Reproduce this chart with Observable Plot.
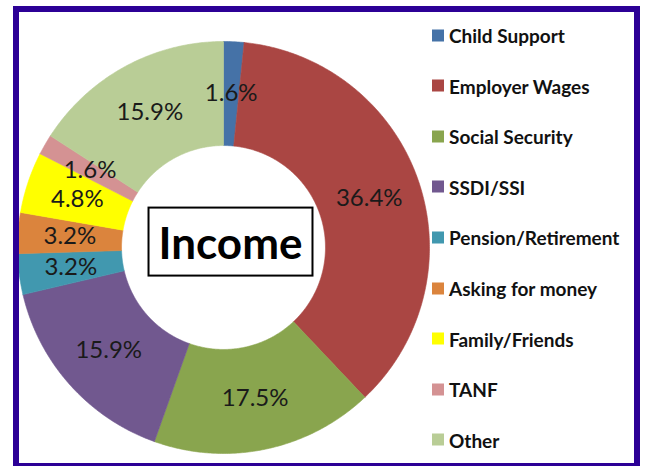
<!DOCTYPE html>
<html><head><meta charset="utf-8">
<script src="https://cdn.jsdelivr.net/npm/d3@7"></script>
<script src="https://cdn.jsdelivr.net/npm/@observablehq/plot@0.6"></script>
<style>
html,body{margin:0;padding:0;background:#fff;width:646px;height:466px;overflow:hidden;}
#frame{position:absolute;left:13px;top:6px;width:627px;height:463px;border:6px solid #2C0096;box-sizing:border-box;z-index:2;pointer-events:none;}
#chart{position:absolute;left:13px;top:37px;}
#legend{position:absolute;left:432px;top:0;font-family:Lato,sans-serif;font-weight:700;font-size:19px;color:#111;}
.item{position:absolute;left:0;display:flex;align-items:center;white-space:nowrap;transform:translateY(-50%);}
.sw{width:12px;height:12px;margin-right:5px;flex:none;}
</style></head><body>
<div id="chart"></div><div id="legend"></div><div id="frame"></div>
<script>
const categories = ["Child Support","Employer Wages","Social Security","SSDI/SSI","Pension/Retirement","Asking for money","Family/Friends","TANF","Other"];
const percents = [1.6, 36.4, 17.5, 15.9, 3.2, 3.2, 4.8, 1.6, 15.9];
const colors = ["#4572A7","#AA4643","#89A54E","#71588F","#4198AF","#DB843D","#FFFF00","#D49293","#B9CD96"];
const chartTitle = "Income";

const innerRatio = 0.495;
const data = categories.map((name, i) => ({name, pct: percents[i]}));
const arcs = d3.pie().sort(null).value(d => d.pct)(data);

const pts = [];
const labels = [];
for (const a of arcs) {
  const n = Math.max(2, Math.ceil((a.endAngle - a.startAngle) / (Math.PI / 360)));
  const ring = [];
  for (let k = 0; k <= n; k++) {
    const t = a.startAngle + (a.endAngle - a.startAngle) * k / n;
    ring.push({name: a.data.name, x: Math.sin(t), y: Math.cos(t)});
  }
  for (let k = n; k >= 0; k--) {
    const t = a.startAngle + (a.endAngle - a.startAngle) * k / n;
    ring.push({name: a.data.name, x: innerRatio * Math.sin(t), y: innerRatio * Math.cos(t)});
  }
  ring.push(ring[0]);
  pts.push(...ring);
  const m = (a.startAngle + a.endAngle) / 2, r = (1 + innerRatio) / 2;
  labels.push({x: r * Math.sin(m), y: r * Math.cos(m), text: a.data.pct.toFixed(1) + "%"});
}

const plot = Plot.plot({
  width: 420, height: 420, margin: 4,
  x: {domain: [-1, 1], axis: null},
  y: {domain: [-1, 1], axis: null},
  color: {domain: categories, range: colors},
  style: {background: "transparent"},
  marks: [
    Plot.line(pts, {x: "x", y: "y", z: "name", fill: "name", stroke: "name", strokeWidth: 0.6, curve: "linear"}),
    Plot.text(labels, {x: "x", y: "y", text: "text", fontSize: 24, fontFamily: "Lato, sans-serif", fill: "#1a1a1a"}),
    Plot.text([chartTitle], {frameAnchor: "middle", text: d => d, dx: 7, dy: -3, fontSize: 44, fontWeight: 700, fontFamily: "Lato, sans-serif", fill: "#000", className: "title-mark"})
  ]
});
document.getElementById("chart").appendChild(plot);

const tEl = plot.querySelector(".title-mark text");
if (tEl) {
  const bb = tEl.getBBox();
  const padX = 10, padY = 8;
  const rect = document.createElementNS("http://www.w3.org/2000/svg", "rect");
  rect.setAttribute("x", bb.x - padX);
  rect.setAttribute("y", bb.y - padY);
  rect.setAttribute("width", bb.width + 2 * padX);
  rect.setAttribute("height", bb.height + 2 * padY);
  rect.setAttribute("fill", "#fff");
  rect.setAttribute("stroke", "#000");
  rect.setAttribute("stroke-width", 2);
  if (tEl.getAttribute("transform")) rect.setAttribute("transform", tEl.getAttribute("transform"));
  tEl.parentNode.insertBefore(rect, tEl);
}

const legend = document.getElementById("legend");
categories.forEach((c, i) => {
  const item = document.createElement("div");
  item.className = "item";
  item.style.top = (35 + i * 50.6) + "px";
  const sw = document.createElement("div");
  sw.className = "sw";
  sw.style.background = colors[i];
  const lab = document.createElement("span");
  lab.textContent = c;
  item.appendChild(sw);
  item.appendChild(lab);
  legend.appendChild(item);
});
</script>
</body></html>
